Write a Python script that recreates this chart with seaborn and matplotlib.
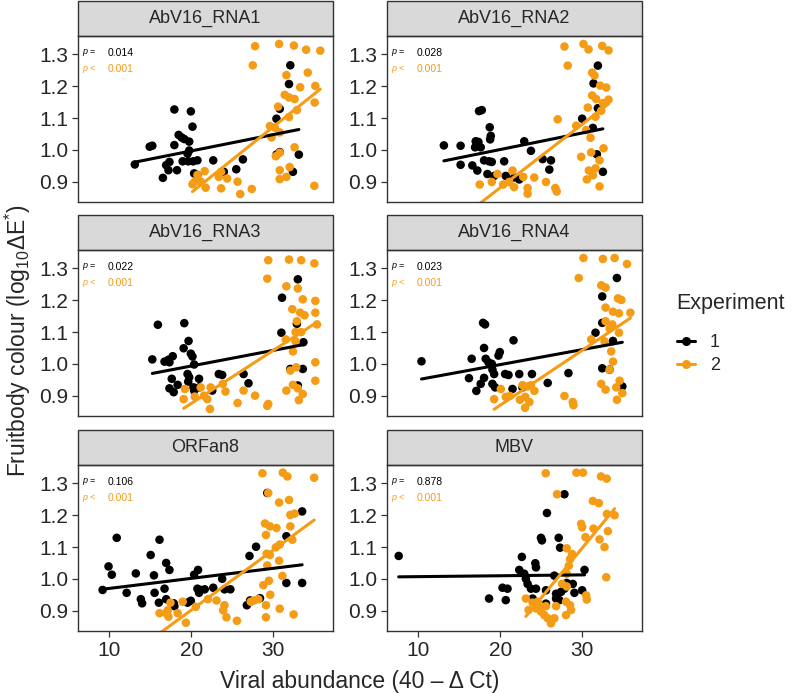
import matplotlib
matplotlib.use("Agg")
import matplotlib.pyplot as plt
from matplotlib.lines import Line2D
from matplotlib.patches import Rectangle
import pandas as pd
import seaborn as sns

# facet names and p-values of the per-experiment regressions
panels = ["AbV16_RNA1", "AbV16_RNA2", "AbV16_RNA3", "AbV16_RNA4", "ORFan8", "MBV"]
p_exp1 = ["0.014", "0.028", "0.022", "0.023", "0.106", "0.878"]
p_exp2 = ["0.001", "0.001", "0.001", "0.001", "0.001", "0.001"]
experiments = ["1", "2"]
exp_colours = {"1": "#000000", "2": "#F59C17"}
x_ticks = [10, 20, 30]
y_ticks = [0.9, 1.0, 1.1, 1.2, 1.3]

# (viral abundance, log10 dE*)
rna1_exp1 = [(13.13, 0.954), (14.94, 1.010), (15.26, 1.013), (17.95, 1.127), (19.96, 1.121),
             (20.16, 1.073), (18.47, 1.047), (18.84, 1.039), (19.16, 1.034), (17.95, 1.015),
             (19.76, 1.026), (19.76, 0.998), (19.56, 0.988), (17.35, 0.962), (16.95, 0.952),
             (17.23, 0.936), (18.27, 0.936), (16.55, 0.912), (18.96, 0.964), (19.64, 0.964),
             (20.24, 0.964), (20.76, 0.967), (20.36, 0.926), (20.76, 0.921), (22.69, 0.967),
             (23.98, 0.931), (25.50, 0.939), (26.31, 0.970), (30.40, 1.098), (30.80, 1.129),
             (31.93, 1.207), (32.09, 1.266), (30.80, 0.993), (30.40, 0.985), (33.13, 0.985),
             (32.41, 0.931)]
rna1_exp2 = [(27.79, 1.326), (27.51, 1.266), (30.72, 1.333), (32.53, 1.328), (34.02, 1.315),
             (35.74, 1.312), (34.22, 1.243), (31.61, 1.235), (33.29, 1.197), (35.14, 1.201),
             (35.06, 1.149), (31.41, 1.173), (31.93, 1.165), (32.61, 1.160), (32.89, 1.125),
             (30.60, 1.136), (31.93, 1.103), (29.60, 1.075), (30.20, 1.070), (30.80, 1.055),
             (29.80, 1.039), (32.61, 1.008), (30.80, 0.991), (30.32, 0.980), (30.80, 0.936),
             (32.01, 0.946), (30.80, 0.908), (31.61, 0.915), (35.02, 0.887), (27.39, 0.877),
             (25.98, 0.861), (25.66, 0.900), (23.65, 0.879), (24.38, 0.910), (23.65, 0.931),
             (23.37, 0.915), (21.65, 0.933), (20.44, 0.900), (21.16, 0.900), (21.77, 0.881),
             (20.16, 0.892), (20.76, 0.921)]

rna2_exp1 = [(13.14, 1.014), (15.18, 1.013), (17.02, 1.027), (17.35, 1.025), (16.94, 1.008),
             (17.63, 1.008), (17.43, 1.122), (17.76, 1.125), (18.73, 1.071), (18.86, 1.044),
             (18.78, 1.033), (15.18, 0.953), (16.61, 0.951), (17.22, 0.935), (18.04, 0.967),
             (18.65, 0.964), (18.98, 0.962), (18.45, 0.924), (19.27, 0.918), (20.49, 0.964),
             (20.69, 0.918), (21.71, 0.913), (22.33, 0.907), (22.94, 1.027), (23.76, 0.997),
             (25.18, 0.971), (26.20, 0.967), (26.00, 0.938), (30.00, 1.098), (31.31, 1.069),
             (31.92, 1.265), (31.39, 1.209), (31.92, 1.131), (31.80, 0.986), (32.53, 0.931)]
rna2_exp2 = [(27.84, 1.325), (28.24, 1.265), (30.16, 1.333), (30.78, 1.316), (32.45, 1.327),
             (33.22, 1.313), (31.22, 1.243), (31.51, 1.234), (32.20, 1.202), (32.94, 1.196),
             (31.22, 1.171), (31.71, 1.160), (33.22, 1.158), (32.53, 1.147), (32.33, 1.123),
             (30.69, 1.133), (31.63, 1.104), (27.02, 1.096), (29.27, 1.076), (30.49, 1.062),
             (31.02, 1.038), (32.61, 1.005), (31.10, 0.992), (29.88, 0.978), (32.12, 0.967),
             (30.82, 0.935), (31.63, 0.942), (31.31, 0.920), (30.57, 0.907), (32.12, 0.885),
             (26.73, 0.880), (26.90, 0.869), (25.59, 0.899), (24.16, 0.913), (23.35, 0.880),
             (23.35, 0.862), (22.82, 0.915), (21.51, 0.935), (21.10, 0.899), (20.37, 0.891),
             (19.67, 0.924), (18.98, 0.899), (17.51, 0.891), (21.71, 0.883)]

rna3_exp1 = [(15.94, 1.123), (19.16, 1.128), (15.26, 1.014), (16.75, 1.007), (17.23, 1.013),
             (17.75, 1.024), (17.35, 1.005), (19.08, 1.049), (19.68, 1.072), (19.96, 1.032),
             (20.16, 1.023), (20.36, 0.998), (19.56, 0.968), (19.76, 0.958), (19.64, 0.944),
             (17.63, 0.953), (18.35, 0.934), (17.35, 0.923), (17.87, 0.911), (20.28, 0.926),
             (20.96, 0.953), (20.96, 0.926), (20.36, 0.916), (22.57, 0.916), (23.37, 0.968),
             (23.78, 0.965), (26.39, 0.968), (26.99, 0.939), (31.00, 1.098), (31.08, 1.208),
             (33.01, 1.266), (32.89, 1.126), (33.69, 1.068), (32.09, 0.984), (33.61, 0.984),
             (33.01, 0.932)]
rna3_exp2 = [(29.40, 1.326), (31.93, 1.328), (33.41, 1.326), (35.02, 1.316), (29.28, 1.268),
             (31.61, 1.244), (33.01, 1.237), (33.61, 1.203), (35.14, 1.198), (32.33, 1.172),
             (33.29, 1.161), (33.82, 1.153), (35.14, 1.161), (35.34, 1.124), (32.89, 1.134),
             (32.73, 1.100), (33.41, 1.100), (32.73, 1.071), (31.53, 1.077), (32.41, 1.039),
             (35.14, 1.005), (32.81, 0.989), (32.09, 0.979), (35.14, 0.947), (32.41, 0.934),
             (33.01, 0.923), (31.61, 0.916), (33.61, 0.905), (33.13, 0.886), (29.40, 0.874),
             (29.28, 0.868), (27.79, 0.900), (26.39, 0.916), (25.66, 0.877), (24.18, 0.913),
             (23.86, 0.937), (22.37, 0.926), (22.29, 0.858), (21.97, 0.889), (21.57, 0.900),
             (21.16, 0.926), (20.44, 0.897), (19.24, 0.921), (19.08, 0.889)]

rna4_exp1 = [(10.41, 1.008), (16.20, 0.955), (16.53, 1.016), (17.10, 0.915), (17.63, 0.937),
             (17.92, 1.129), (18.16, 1.124), (18.04, 1.050), (18.24, 1.016), (18.57, 1.005),
             (18.04, 0.956), (18.98, 1.000), (19.06, 0.982), (19.27, 0.968), (19.06, 0.937),
             (19.39, 0.926), (19.80, 1.026), (19.96, 1.037), (20.61, 0.968), (21.02, 0.965),
             (21.51, 0.921), (21.63, 1.074), (22.33, 0.968), (22.73, 0.926), (23.88, 0.968),
             (25.80, 0.940), (28.33, 0.971), (31.63, 1.098), (32.45, 1.129), (32.45, 1.212),
             (34.24, 1.270), (33.76, 1.072), (32.45, 0.986), (33.35, 0.982), (34.90, 0.929)]
rna4_exp2 = [(30.16, 1.333), (32.53, 1.330), (33.96, 1.333), (35.47, 1.314), (29.59, 1.270),
             (32.33, 1.247), (32.86, 1.240), (34.37, 1.206), (34.78, 1.201), (32.86, 1.177),
             (33.76, 1.164), (34.49, 1.159), (35.88, 1.161), (32.86, 1.134), (33.67, 1.124),
             (33.35, 1.111), (34.49, 1.098), (31.10, 1.077), (32.73, 1.071), (33.55, 1.039),
             (33.76, 1.007), (33.35, 0.982), (32.33, 0.937), (32.86, 0.919), (34.57, 0.947),
             (34.16, 0.926), (34.90, 0.908), (34.24, 0.887), (27.84, 0.899), (28.86, 0.880),
             (28.94, 0.870), (24.18, 0.915), (23.57, 0.880), (23.04, 0.862), (23.76, 0.933),
             (23.35, 0.929), (22.73, 0.933), (23.06, 0.896), (22.41, 0.887), (21.18, 0.899),
             (20.69, 0.896), (20.08, 0.921), (19.27, 0.889)]

orfan8_exp1 = [(9.20, 0.965), (9.92, 1.039), (10.32, 1.013), (10.92, 1.129), (12.13, 0.956),
               (13.25, 1.017), (13.86, 0.936), (14.02, 0.923), (15.06, 1.075), (15.46, 1.011),
               (15.54, 0.956), (16.14, 1.123), (16.06, 0.925), (16.95, 1.050), (17.35, 1.028),
               (16.75, 0.969), (16.95, 0.936), (17.87, 0.923), (17.95, 0.914), (19.56, 0.925),
               (19.96, 0.931), (20.36, 1.013), (20.84, 1.028), (20.76, 0.969), (20.96, 0.956),
               (21.16, 0.965), (21.65, 0.967), (22.69, 0.972), (23.78, 1.000), (24.06, 0.967),
               (24.78, 0.967), (26.79, 0.917), (27.11, 1.072), (27.91, 1.101), (27.19, 0.932),
               (28.39, 0.939), (29.28, 1.270), (31.61, 1.134), (31.61, 0.987), (33.53, 1.212),
               (33.53, 0.987)]
orfan8_exp2 = [(28.69, 1.332), (31.17, 1.334), (31.73, 1.322), (35.00, 1.318), (29.40, 1.270),
               (30.72, 1.240), (31.93, 1.248), (32.09, 1.201), (32.61, 1.205), (29.00, 1.174),
               (29.60, 1.165), (30.40, 1.160), (29.12, 1.138), (32.09, 1.165), (32.33, 1.123),
               (30.80, 1.108), (30.32, 1.099), (29.20, 1.079), (29.60, 1.075), (29.28, 1.042),
               (30.72, 1.057), (31.12, 1.009), (29.48, 0.994), (28.80, 0.980), (29.64, 0.950),
               (28.19, 0.936), (27.67, 0.932), (27.27, 0.928), (29.12, 0.917), (30.80, 0.906),
               (29.12, 0.879), (32.49, 0.888), (25.58, 0.868), (24.30, 0.879), (23.90, 0.901),
               (24.06, 0.917), (23.09, 0.932), (22.05, 0.936), (20.56, 0.912), (19.36, 0.862),
               (18.96, 0.928), (18.35, 0.892), (17.47, 0.925), (17.15, 0.901), (16.95, 0.892),
               (17.23, 0.881), (16.14, 0.892)]

mbv_exp1 = [(7.63, 1.072), (18.65, 0.938), (20.29, 0.972), (20.69, 0.933), (20.90, 0.969),
            (22.65, 1.069), (22.33, 1.028), (22.94, 1.016), (23.14, 1.000), (23.35, 0.984),
            (24.29, 1.049), (24.37, 1.036), (23.76, 0.969), (24.37, 0.969), (23.96, 0.938),
            (24.57, 0.925), (24.98, 1.129), (25.10, 1.121), (25.71, 1.207), (25.59, 0.964),
            (25.59, 0.922), (26.61, 1.010), (27.14, 1.129), (27.31, 1.098), (26.82, 0.953),
            (27.43, 0.959), (26.82, 0.938), (27.22, 0.933), (27.84, 1.266), (27.84, 0.969),
            (28.12, 0.987), (28.86, 0.984), (29.06, 0.956), (30.29, 1.028), (30.00, 0.964)]
mbv_exp2 = [(25.56, 1.332), (29.30, 1.334), (30.10, 1.334), (32.30, 1.322), (33.00, 1.315),
            (26.94, 1.266), (31.31, 1.245), (32.04, 1.238), (29.88, 1.173), (30.00, 1.162),
            (31.39, 1.158), (30.41, 1.131), (32.12, 1.124), (33.14, 1.150), (33.02, 1.204),
            (33.96, 1.200), (32.73, 1.100), (32.94, 1.005), (28.12, 1.096), (28.78, 1.078),
            (28.53, 1.062), (28.37, 1.041), (28.12, 1.016), (27.55, 0.984), (28.12, 0.976),
            (30.49, 0.948), (30.57, 0.935), (28.04, 0.928), (28.53, 0.917), (28.65, 0.902),
            (28.04, 0.886), (26.82, 0.914), (25.59, 0.914), (23.14, 0.938), (23.96, 0.925),
            (24.57, 0.928), (24.98, 0.897), (25.39, 0.886), (25.80, 0.876), (26.20, 0.860),
            (26.61, 0.876), (23.47, 0.902), (24.37, 0.907), (24.78, 0.917)]

points = {
    "AbV16_RNA1": (rna1_exp1, rna1_exp2),
    "AbV16_RNA2": (rna2_exp1, rna2_exp2),
    "AbV16_RNA3": (rna3_exp1, rna3_exp2),
    "AbV16_RNA4": (rna4_exp1, rna4_exp2),
    "ORFan8": (orfan8_exp1, orfan8_exp2),
    "MBV": (mbv_exp1, mbv_exp2),
}

rows = []
for virus, groups in points.items():
    for exp, pts in zip(experiments, groups):
        for x, y in pts:
            rows.append({"virus": virus, "Experiment": exp, "abundance": x, "colour": y})
df = pd.DataFrame(rows)

sns.set_theme(style="white")
plt.rcParams["font.family"] = ["Liberation Sans", "DejaVu Sans"]
plt.rcParams["mathtext.fontset"] = "custom"
plt.rcParams["mathtext.rm"] = "Liberation Sans"
plt.rcParams["mathtext.it"] = "Liberation Sans:italic"

fig = plt.figure(figsize=(7.92, 6.93), dpi=100)
col_left = [0.0985, 0.4886]
row_bottom = [0.7085, 0.3997, 0.0895]
w, h = 0.322, 0.2395
strip_h = 35.5 / 166

for i, virus in enumerate(panels):
    ax = fig.add_axes([col_left[i % 2], row_bottom[i // 2], w, h])
    sub = df[df["virus"] == virus]
    sns.scatterplot(data=sub, x="abundance", y="colour", hue="Experiment",
                    hue_order=experiments, palette=exp_colours, s=38,
                    linewidth=0, legend=False, ax=ax)
    for exp in experiments:
        sns.regplot(data=sub[sub["Experiment"] == exp], x="abundance", y="colour",
                    scatter=False, ci=None, truncate=True, color=exp_colours[exp],
                    line_kws={"lw": 2.2}, ax=ax)
    ax.set_xlim(6.2, 37.3)
    ax.set_ylim(0.836, 1.358)
    ax.set_yticks(y_ticks)
    ax.set_yticklabels([f"{t:.1f}" for t in y_ticks])
    ax.set_xlabel("")
    ax.set_ylabel("")
    if i // 2 == 2:
        ax.set_xticks(x_ticks)
        ax.tick_params(axis="x", bottom=True, length=4, width=0.9, color="#333333",
                       labelsize=15, pad=3)
    else:
        ax.set_xticks([])
    ax.tick_params(axis="y", left=True, length=4, width=0.9, color="#333333",
                   labelsize=15, pad=3)
    for s in ax.spines.values():
        s.set_color("#333333")
        s.set_linewidth(1.0)

    # facet strip
    ax.add_patch(Rectangle((0, 1), 1, strip_h, transform=ax.transAxes,
                           facecolor="#D9D9D9", edgecolor="#333333", lw=1.0,
                           clip_on=False))
    ax.text(0.5, 1 + strip_h / 2, virus, transform=ax.transAxes, ha="center",
            va="center", fontsize=13)

    # p-values
    ax.text(0.016, 0.898, r"$\it{p}$ =", transform=ax.transAxes, fontsize=6.5,
            va="center", color=exp_colours["1"])
    ax.text(0.118, 0.898, p_exp1[i], transform=ax.transAxes, fontsize=7.5,
            va="center", color=exp_colours["1"])
    ax.text(0.016, 0.80, r"$\it{p}$ <", transform=ax.transAxes, fontsize=6.5,
            va="center", color=exp_colours["2"])
    ax.text(0.118, 0.80, p_exp2[i], transform=ax.transAxes, fontsize=7.5,
            va="center", color=exp_colours["2"])

fig.text(0.454, 0.017, "Viral abundance (40 \u2013 \u0394 Ct)", ha="center",
         va="center", fontsize=16.5)
fig.text(0.022, 0.509, "Fruitbody colour (log$_{10}$\u0394E$^{*}$)", ha="center",
         va="center", rotation=90, fontsize=16.5)

# legend: title placed separately so the gap below it matches
fig.text(0.854, 1 - 303 / 693, "Experiment", ha="left", va="center", fontsize=15.5)
handles = [Line2D([0], [0], color=exp_colours[e], lw=2.2, marker="o", markersize=5.5)
           for e in experiments]
fig.legend(handles, experiments, loc="upper left", bbox_to_anchor=(0.855, 0.518),
           frameon=False, fontsize=13, handlelength=1.0, handletextpad=0.8,
           labelspacing=0.35, borderpad=0, borderaxespad=0)

fig.savefig("out.png", dpi=100)
